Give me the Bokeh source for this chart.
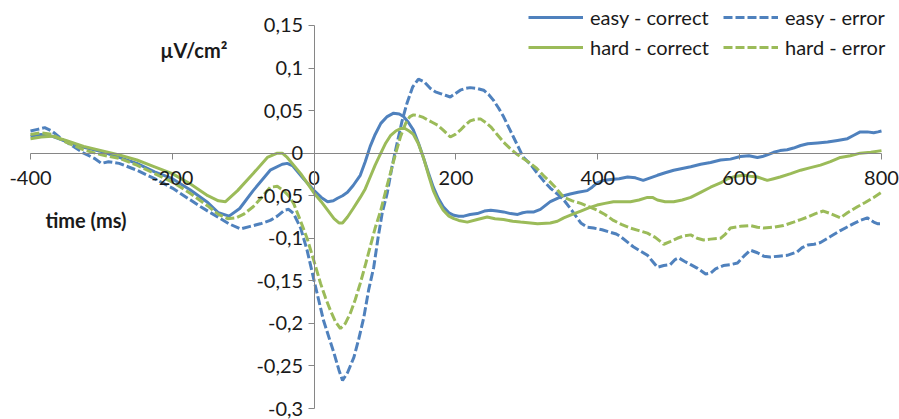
from bokeh.plotting import figure
from bokeh.models import Range1d, FixedTicker, Legend, LegendItem, Label
from bokeh.embed import file_html
from bokeh.resources import INLINE

# ---------------- data ----------------
ec_t = [-400, -385, -370, -350, -325, -300, -275, -250, -225, -200, -175, -150, -135, -120, -105, -86, -62, -45, -38, -30,
        -15, 0, 10, 19, 27, 33, 40, 47, 55, 65, 72, 79, 86, 94, 103, 112, 120, 126, 133, 140,
        147, 154, 161, 168, 175, 182, 190, 197, 204, 211, 220, 230, 240, 249, 258, 267, 277, 287, 294, 301,
        310, 319, 333, 343, 352, 361, 372, 385, 392, 399, 408, 418, 430, 442, 453, 464, 474, 484, 495, 507,
        519, 531, 545, 559, 573, 587, 601, 613, 625, 632, 639, 648, 657, 667, 676, 686, 696, 710, 724, 738,
        752, 761, 770, 780, 789, 795, 800]
ec_v = [0.020, 0.022, 0.020, 0.014, 0.007, 0.002, -0.005, -0.012, -0.022, -0.030, -0.043, -0.058, -0.070, -0.074, -0.065, -0.044, -0.020, -0.013, -0.012, -0.015,
        -0.030, -0.044, -0.052, -0.057, -0.056, -0.053, -0.050, -0.046, -0.038, -0.026, -0.010, 0.008, 0.022, 0.035, 0.043, 0.047, 0.046, 0.043, 0.036, 0.027,
        0.012, -0.005, -0.023, -0.040, -0.053, -0.063, -0.070, -0.073, -0.074, -0.074, -0.072, -0.071, -0.068, -0.067, -0.068, -0.069, -0.071, -0.072, -0.070, -0.069,
        -0.069, -0.066, -0.057, -0.053, -0.050, -0.048, -0.046, -0.044, -0.040, -0.035, -0.032, -0.031, -0.030, -0.028, -0.029, -0.032, -0.029, -0.026, -0.023, -0.020,
        -0.018, -0.016, -0.013, -0.011, -0.008, -0.007, -0.004, -0.003, -0.005, -0.004, -0.002, 0.001, 0.003, 0.004, 0.006, 0.009, 0.011, 0.012, 0.013, 0.015,
        0.017, 0.021, 0.025, 0.025, 0.024, 0.025, 0.026]

ee_t = [-400, -390, -380, -370, -355, -340, -325, -310, -300, -290, -275, -250, -225, -200, -180, -160, -136, -120, -104, -90,
        -76, -62, -52, -42, -36, -29, -19, -10, 0, 13, 28, 35, 40, 47, 56, 63, 70, 77, 84, 90,
        96, 103, 110, 117, 124, 131, 139, 147, 155, 164, 171, 178, 185, 192, 199, 206, 213, 220, 230, 239,
        246, 253, 260, 267, 274, 281, 288, 295, 305, 315, 323, 333, 343, 352, 364, 376, 385, 394, 406, 418,
        426, 432, 441, 450, 460, 470, 477, 484, 493, 502, 509, 514, 522, 531, 540, 552, 559, 566, 577, 587,
        597, 606, 615, 625, 634, 643, 655, 667, 674, 681, 688, 696, 705, 714, 728, 742, 751, 760, 770, 780,
        789, 795, 800]
ee_v = [0.026, 0.028, 0.030, 0.026, 0.016, 0.008, 0.000, -0.006, -0.012, -0.010, -0.012, -0.020, -0.030, -0.041, -0.052, -0.063, -0.075, -0.083, -0.089, -0.086,
        -0.083, -0.079, -0.074, -0.067, -0.066, -0.071, -0.088, -0.114, -0.150, -0.196, -0.235, -0.255, -0.267, -0.258, -0.240, -0.218, -0.193, -0.160, -0.134, -0.100,
        -0.070, -0.047, -0.015, 0.012, 0.038, 0.059, 0.078, 0.087, 0.084, 0.076, 0.072, 0.070, 0.068, 0.066, 0.070, 0.074, 0.076, 0.077, 0.076, 0.074,
        0.069, 0.062, 0.053, 0.043, 0.031, 0.019, 0.007, -0.005, -0.013, -0.024, -0.032, -0.041, -0.048, -0.055, -0.068, -0.082, -0.087, -0.088, -0.090, -0.093,
        -0.095, -0.098, -0.104, -0.110, -0.115, -0.120, -0.127, -0.134, -0.132, -0.131, -0.125, -0.123, -0.127, -0.131, -0.135, -0.142, -0.141, -0.136, -0.132, -0.131,
        -0.129, -0.121, -0.114, -0.117, -0.121, -0.122, -0.121, -0.120, -0.118, -0.116, -0.111, -0.108, -0.107, -0.105, -0.098, -0.091, -0.087, -0.083, -0.079, -0.076,
        -0.081, -0.083, -0.083]

hc_t = [-400, -385, -370, -350, -325, -300, -275, -250, -225, -200, -175, -150, -135, -125, -108, -86, -66, -52, -45, -38,
        -19, 0, 10, 19, 28, 35, 40, 47, 55, 65, 72, 79, 86, 94, 101, 108, 115, 122, 128, 134,
        140, 147, 154, 161, 168, 175, 182, 190, 197, 204, 216, 230, 244, 255, 267, 280, 291, 305, 315, 333,
        343, 352, 364, 376, 388, 399, 410, 422, 434, 446, 458, 470, 477, 484, 495, 507, 519, 531, 545, 559,
        573, 583, 595, 606, 615, 625, 639, 648, 657, 672, 686, 700, 714, 728, 742, 756, 770, 785, 800]
hc_v = [0.017, 0.019, 0.020, 0.015, 0.008, 0.003, -0.002, -0.008, -0.016, -0.024, -0.036, -0.050, -0.056, -0.057, -0.044, -0.024, -0.005, 0.000, 0.000, -0.005,
        -0.024, -0.047, -0.057, -0.067, -0.077, -0.082, -0.082, -0.075, -0.065, -0.052, -0.042, -0.028, -0.014, 0.000, 0.012, 0.021, 0.026, 0.029, 0.029, 0.026,
        0.022, 0.011, -0.005, -0.025, -0.044, -0.057, -0.067, -0.074, -0.077, -0.079, -0.081, -0.078, -0.075, -0.077, -0.078, -0.080, -0.081, -0.082, -0.083, -0.082,
        -0.080, -0.076, -0.072, -0.068, -0.064, -0.061, -0.059, -0.057, -0.057, -0.057, -0.055, -0.052, -0.052, -0.055, -0.057, -0.057, -0.055, -0.052, -0.046, -0.040,
        -0.035, -0.030, -0.027, -0.026, -0.027, -0.028, -0.032, -0.030, -0.028, -0.024, -0.020, -0.017, -0.014, -0.010, -0.005, -0.003, 0.000, 0.001, 0.003]

he_t = [-400, -385, -370, -350, -325, -300, -275, -250, -225, -200, -175, -150, -135, -122, -110, -100, -86, -75, -62, -52,
        -43, -36, -29, -19, -10, -2, 9, 16, 23, 30, 37, 44, 51, 58, 65, 72, 79, 86, 94, 101,
        108, 115, 122, 129, 135, 140, 147, 154, 160, 167, 174, 182, 192, 199, 206, 213, 220, 228, 235, 242,
        249, 258, 267, 277, 287, 296, 305, 314, 323, 333, 340, 347, 352, 364, 376, 388, 399, 410, 422, 434,
        446, 458, 470, 481, 493, 502, 512, 522, 531, 540, 549, 559, 573, 580, 587, 601, 615, 625, 634, 648,
        662, 676, 686, 696, 707, 718, 728, 742, 752, 766, 777, 789, 800]
he_v = [0.022, 0.024, 0.022, 0.013, 0.004, -0.002, -0.006, -0.014, -0.024, -0.034, -0.047, -0.062, -0.072, -0.077, -0.076, -0.072, -0.063, -0.053, -0.040, -0.039,
        -0.044, -0.050, -0.059, -0.080, -0.100, -0.122, -0.153, -0.170, -0.185, -0.198, -0.206, -0.200, -0.188, -0.172, -0.153, -0.132, -0.110, -0.088, -0.067, -0.044,
        -0.022, 0.000, 0.020, 0.035, 0.043, 0.045, 0.044, 0.042, 0.039, 0.036, 0.033, 0.027, 0.019, 0.022, 0.027, 0.033, 0.038, 0.040, 0.040, 0.036,
        0.031, 0.022, 0.013, 0.005, -0.002, -0.007, -0.012, -0.018, -0.026, -0.034, -0.040, -0.047, -0.052, -0.056, -0.059, -0.063, -0.067, -0.072, -0.079, -0.084,
        -0.088, -0.091, -0.094, -0.099, -0.107, -0.104, -0.100, -0.097, -0.096, -0.100, -0.102, -0.101, -0.100, -0.095, -0.088, -0.086, -0.085, -0.087, -0.088, -0.087,
        -0.085, -0.081, -0.078, -0.075, -0.071, -0.068, -0.071, -0.076, -0.070, -0.063, -0.058, -0.052, -0.046]

series_names = ["easy - correct", "easy - error", "hard - correct", "hard - error"]

x_ticks = [-400, -200, 0, 200, 400, 600, 800]
x_tick_labels = ["-400", "-200", "0", "200", "400", "600", "800"]
y_ticks = [-0.3, -0.25, -0.2, -0.15, -0.1, -0.05, 0.0, 0.05, 0.1, 0.15]
y_tick_labels = ["-0,3", "-0,25", "-0,2", "-0,15", "-0,1", "-0,05", "0", "0,05", "0,1", "0,15"]

y_title = "µV/cm²"
x_title = "time (ms)"

# ---------------- figure ----------------
BLUE = "#4F81BD"
GREEN = "#9BBB59"
FONT = "Lato"
DASH = "9 3"

# The frame fills the whole canvas; the visible axis extent is limited with bounds,
# so that the centred axes' labels are not clipped by the frame.
p = figure(width=899, height=419,
           x_range=Range1d(-442.3, 825.4), y_range=Range1d(-0.31292, 0.17937),
           output_backend="svg", toolbar_location=None,
           min_border_left=0, min_border_right=0, min_border_top=0, min_border_bottom=0)
p.xgrid.visible = False
p.ygrid.visible = False
p.outline_line_color = None
p.background_fill_color = "white"
p.border_fill_color = "white"

for ax in (p.xaxis[0], p.yaxis[0]):
    ax.fixed_location = 0
    ax.axis_line_color = "#868686"
    ax.axis_line_width = 1
    ax.major_tick_line_color = "#868686"
    ax.major_tick_out = 6
    ax.major_tick_in = 0
    ax.minor_tick_line_color = None
    ax.major_label_text_font = FONT
    ax.major_label_text_font_size = "20px"
    ax.major_label_text_color = "#1a1a1a"

p.xaxis[0].bounds = (x_ticks[0], x_ticks[-1])
p.xaxis[0].ticker = FixedTicker(ticks=x_ticks)
p.xaxis[0].major_label_overrides = dict(zip(x_ticks, x_tick_labels))
p.xaxis[0].major_label_standoff = 12
p.yaxis[0].bounds = (y_ticks[0], y_ticks[-1])
p.yaxis[0].ticker = FixedTicker(ticks=y_ticks)
p.yaxis[0].major_label_overrides = dict(zip(y_ticks, y_tick_labels))
p.yaxis[0].major_label_standoff = 5

r_ec = p.line(ec_t, ec_v, line_color=BLUE, line_width=3)
r_ee = p.line(ee_t, ee_v, line_color=BLUE, line_width=3, line_dash=DASH)
r_hc = p.line(hc_t, hc_v, line_color=GREEN, line_width=3)
r_he = p.line(he_t, he_v, line_color=GREEN, line_width=3, line_dash=DASH)

p.add_layout(Label(x=-217, y=0.121, text=y_title, text_font=FONT, text_font_size="20px",
                   text_font_style="bold", text_baseline="middle", text_align="left", text_color="#1a1a1a"))
p.add_layout(Label(x=-379, y=-0.079, text=x_title, text_font=FONT, text_font_size="20px",
                   text_font_style="bold", text_baseline="middle", text_align="left", text_color="#1a1a1a"))

items = [LegendItem(label=series_names[0], renderers=[r_ec]),
         LegendItem(label=series_names[2], renderers=[r_hc]),
         LegendItem(label=series_names[1], renderers=[r_ee]),
         LegendItem(label=series_names[3], renderers=[r_he])]
legend = Legend(items=items, ncols=2, location=(528, 360),
                glyph_width=55, glyph_height=24, label_height=24, label_width=127,
                label_standoff=7, spacing=6, padding=0, margin=0,
                label_text_font=FONT, label_text_font_size="20px", label_text_color="#1a1a1a",
                background_fill_alpha=0, border_line_alpha=0)
p.add_layout(legend)

open("out.html", "w").write(file_html(p, INLINE))
